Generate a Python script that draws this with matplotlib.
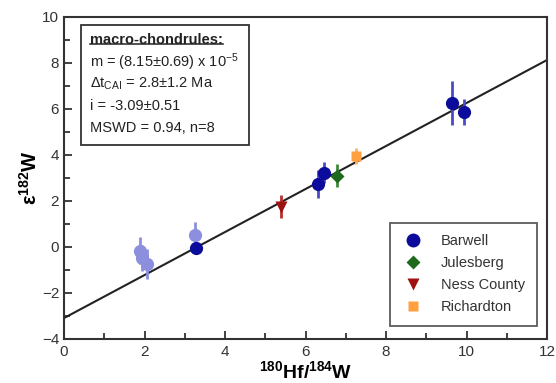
import matplotlib
matplotlib.use("Agg")
import matplotlib.pyplot as plt
from matplotlib.patches import Rectangle
from matplotlib.lines import Line2D
from matplotlib.ticker import MultipleLocator, FuncFormatter
import numpy as np

plt.rcParams['font.family'] = ['Liberation Sans', 'DejaVu Sans']
plt.rcParams['mathtext.fontset'] = 'custom'
plt.rcParams['mathtext.rm'] = 'Liberation Sans'
plt.rcParams['mathtext.bf'] = 'Liberation Sans:bold'
plt.rcParams['mathtext.it'] = 'Liberation Sans:italic'

# ---- data ----
barwell_x = [3.27, 6.32, 6.46, 9.64, 9.94]
barwell_y = [-0.05, 2.74, 3.23, 6.26, 5.87]
barwell_err = [0.15, 0.6, 0.45, 0.96, 0.56]

excluded_x = [1.89, 1.93, 2.05, 3.25]
excluded_y = [-0.16, -0.48, -0.74, 0.52]
excluded_err = [0.6, 0.55, 0.65, 0.55]

jules_x = [6.79]; jules_y = [3.10]; jules_err = [0.5]
ness_x = [5.38]; ness_y = [1.75]; ness_err = [0.5]
rich_x = [7.25]; rich_y = [3.96]; rich_err = [0.35]

line_intercept = -3.09
line_slope = 0.935

box_lines = [
    r"m = (8.15±0.69) x 10$^{-5}$",
    r"Δt$_{\mathrm{CAI}}$ = 2.8±1.2 Ma",
    r"i = -3.09±0.51",
    r"MSWD = 0.94, n=8",
]
box_title = "macro-chondrules:"

fig = plt.figure(figsize=(5.56, 3.83), dpi=100)
ax = fig.add_axes([64/556, 1-339/383, 483/556, 322/383])

xl = np.array([0, 12])
ax.plot(xl, line_intercept + line_slope*xl, color='#222222', lw=1.5, zorder=2)

ms = 9.5
ax.errorbar(excluded_x, excluded_y, yerr=excluded_err, fmt='o', color='#8b8fde',
            ecolor='#8b8fde', elinewidth=2, ms=ms, capsize=0, zorder=3, mec='none')
ax.errorbar(barwell_x, barwell_y, yerr=barwell_err, fmt='o', color='#0b0b9c',
            ecolor='#4a4ac8', elinewidth=2, ms=ms, capsize=0, zorder=4, mec='none')
ax.errorbar(jules_x, jules_y, yerr=jules_err, fmt='D', color='#1d6a1d',
            ecolor='#3d8a3d', elinewidth=2, ms=7.5, capsize=0, zorder=4, mec='none')
ax.errorbar(ness_x, ness_y, yerr=ness_err, fmt='v', color='#9e1212',
            ecolor='#b83030', elinewidth=2, ms=8.5, capsize=0, zorder=4, mec='none')
ax.errorbar(rich_x, rich_y, yerr=rich_err, fmt='s', color='#ffa040',
            ecolor='#ffb060', elinewidth=2, ms=7.5, capsize=0, zorder=4, mec='none')

ax.set_xlim(0, 12)
ax.set_ylim(-4, 10)
ax.xaxis.set_major_locator(MultipleLocator(2))
ax.xaxis.set_minor_locator(MultipleLocator(1))
ax.yaxis.set_major_locator(MultipleLocator(2))
ax.yaxis.set_minor_locator(MultipleLocator(1))
ax.tick_params(which='both', direction='in', width=1.3, colors='#333333',
               labelsize=11, labelcolor='#333333')
ax.tick_params(which='major', length=6)
ax.tick_params(which='minor', length=4)
ax.tick_params(axis='x', pad=4)
for s in ax.spines.values():
    s.set_linewidth(1.5)
    s.set_color('#333333')

ax.yaxis.set_major_formatter(FuncFormatter(lambda v, p: f"{v:.0f}".replace('-', '\u2212')))
ax.set_xlabel(r"$\mathbf{^{180}Hf/^{184}W}$", fontsize=14, labelpad=1)
ax.set_ylabel(r"$\mathbf{\varepsilon^{182}W}$", fontsize=14.5, labelpad=1)

# text box
ax.add_patch(Rectangle((0.0346, 0.602), 0.3484, 0.373, transform=ax.transAxes,
                       fill=True, facecolor='white', edgecolor='#333333', lw=1.3, zorder=5))
ty = [0.929, 0.860, 0.792, 0.724, 0.655]
t = ax.text(0.054, ty[0], box_title, transform=ax.transAxes, fontsize=10.5,
            fontweight='bold', va='center', ha='left', zorder=6, color='#222222')
for yy, s in zip(ty[1:], box_lines):
    ax.text(0.054, yy, s, transform=ax.transAxes, fontsize=10.5, va='center',
            ha='left', zorder=6, color='#222222')
fig.canvas.draw()
bb = t.get_window_extent().transformed(ax.transAxes.inverted())
ax.add_line(Line2D([bb.x0, bb.x1], [bb.y0 + 0.008, bb.y0 + 0.008], transform=ax.transAxes,
                   color='#222222', lw=1.1, zorder=6))

handles = [
    Line2D([], [], ls='none', marker='o', color='#0b0b9c', ms=10, mec='none', label='Barwell'),
    Line2D([], [], ls='none', marker='D', color='#1d6a1d', ms=7.5, mec='none', label='Julesberg'),
    Line2D([], [], ls='none', marker='v', color='#9e1212', ms=8.5, mec='none', label='Ness County'),
    Line2D([], [], ls='none', marker='s', color='#ffa040', ms=7, mec='none', label='Richardton'),
]
leg = ax.legend(handles=handles, loc='lower right', bbox_to_anchor=(0.979, 0.04), borderaxespad=0,
                fontsize=10.5, frameon=True, fancybox=False, edgecolor='#333333',
                labelspacing=0.55, handletextpad=1.2, borderpad=0.8, handlelength=1.5)
leg.get_frame().set_linewidth(1.3)
for txt in leg.get_texts():
    txt.set_color('#333333')

fig.savefig('out.png', dpi=100)
